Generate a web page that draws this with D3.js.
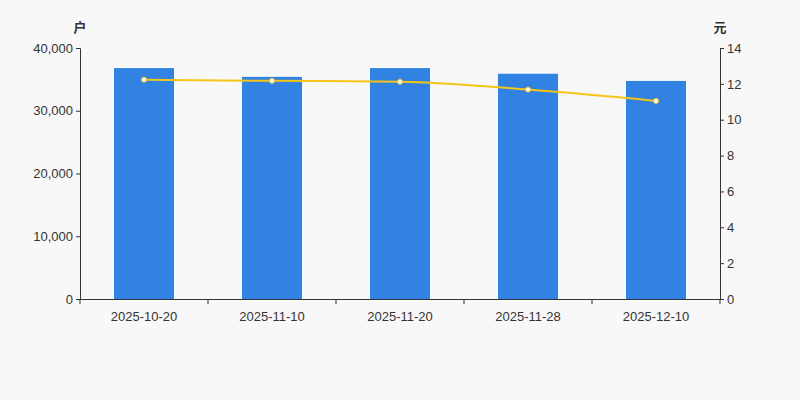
<!DOCTYPE html>
<html><head><meta charset="utf-8">
<script src="https://cdn.jsdelivr.net/npm/d3@7"></script>
<style>body{margin:0;background:#f8f8f8}svg{font-family:"Noto Sans CJK SC",sans-serif}</style>
</head><body><svg id="c" width="800" height="400"></svg>
<script>
const categories=["2025-10-20","2025-11-10","2025-11-20","2025-11-28","2025-12-10"];
const holders=[36800,35400,36800,35900,34750];
const prices=[12.23,12.17,12.12,11.68,11.05];
const leftTicks=[0,10000,20000,30000,40000];
const rightTicks=[0,2,4,6,8,10,12,14];
const svg=d3.select("#c");
svg.append("rect").attr("width",800).attr("height",400).attr("fill","#f8f8f8");
const L=80,R=720,T=48,B=299;
const x=d3.scaleBand().domain(categories).range([L,R]);
const yL=d3.scaleLinear().domain([0,40000]).range([B,T]);
const yR=d3.scaleLinear().domain([0,14]).range([B,T]);
const fmt=d3.format(",");
const ax=svg.append("g").attr("transform",`translate(0,${B})`).call(d3.axisBottom(x).tickSize(5).tickSizeOuter(0));
ax.selectAll(".tick line").attr("x1",-64).attr("x2",-64);
ax.append("line").attr("x1",R).attr("x2",R).attr("y2",5).attr("stroke","#333");
const al=svg.append("g").attr("transform",`translate(${L},0)`).call(d3.axisLeft(yL).tickValues(leftTicks).tickFormat(fmt).tickSize(4));
const ar=svg.append("g").attr("transform",`translate(${R},0)`).call(d3.axisRight(yR).tickValues(rightTicks).tickSize(4));
[ax,al,ar].forEach(g=>{g.selectAll("path,line").attr("stroke","#333");g.selectAll("text").attr("fill","#333").attr("font-size",13);});
ax.selectAll("text").attr("dy","1.1em");
svg.selectAll(".bar").data(holders).join("rect")
 .attr("x",(d,i)=>x(categories[i])+x.bandwidth()/2-30).attr("width",60)
 .attr("y",d=>yL(d)).attr("height",d=>B-yL(d)).attr("fill","#3282e3");
const line=d3.line().x((d,i)=>x(categories[i])+x.bandwidth()/2).y(d=>yR(d)).curve(d3.curveMonotoneX);
svg.append("path").datum(prices).attr("d",line).attr("fill","none").attr("stroke","#f5c518").attr("stroke-width",2);
svg.selectAll(".pt").data(prices).join("circle").attr("cx",(d,i)=>x(categories[i])+x.bandwidth()/2)
 .attr("cy",d=>yR(d)).attr("r",2.5).attr("fill","#fff").attr("stroke","#f5c518").attr("stroke-width",1);
svg.append("text").attr("x",80).attr("y",32).attr("text-anchor","middle").attr("font-size",13).attr("font-weight","bold").attr("fill","#333").text("户");
svg.append("text").attr("x",720).attr("y",32).attr("text-anchor","middle").attr("font-size",13).attr("font-weight","bold").attr("fill","#333").text("元");
</script></body></html>
